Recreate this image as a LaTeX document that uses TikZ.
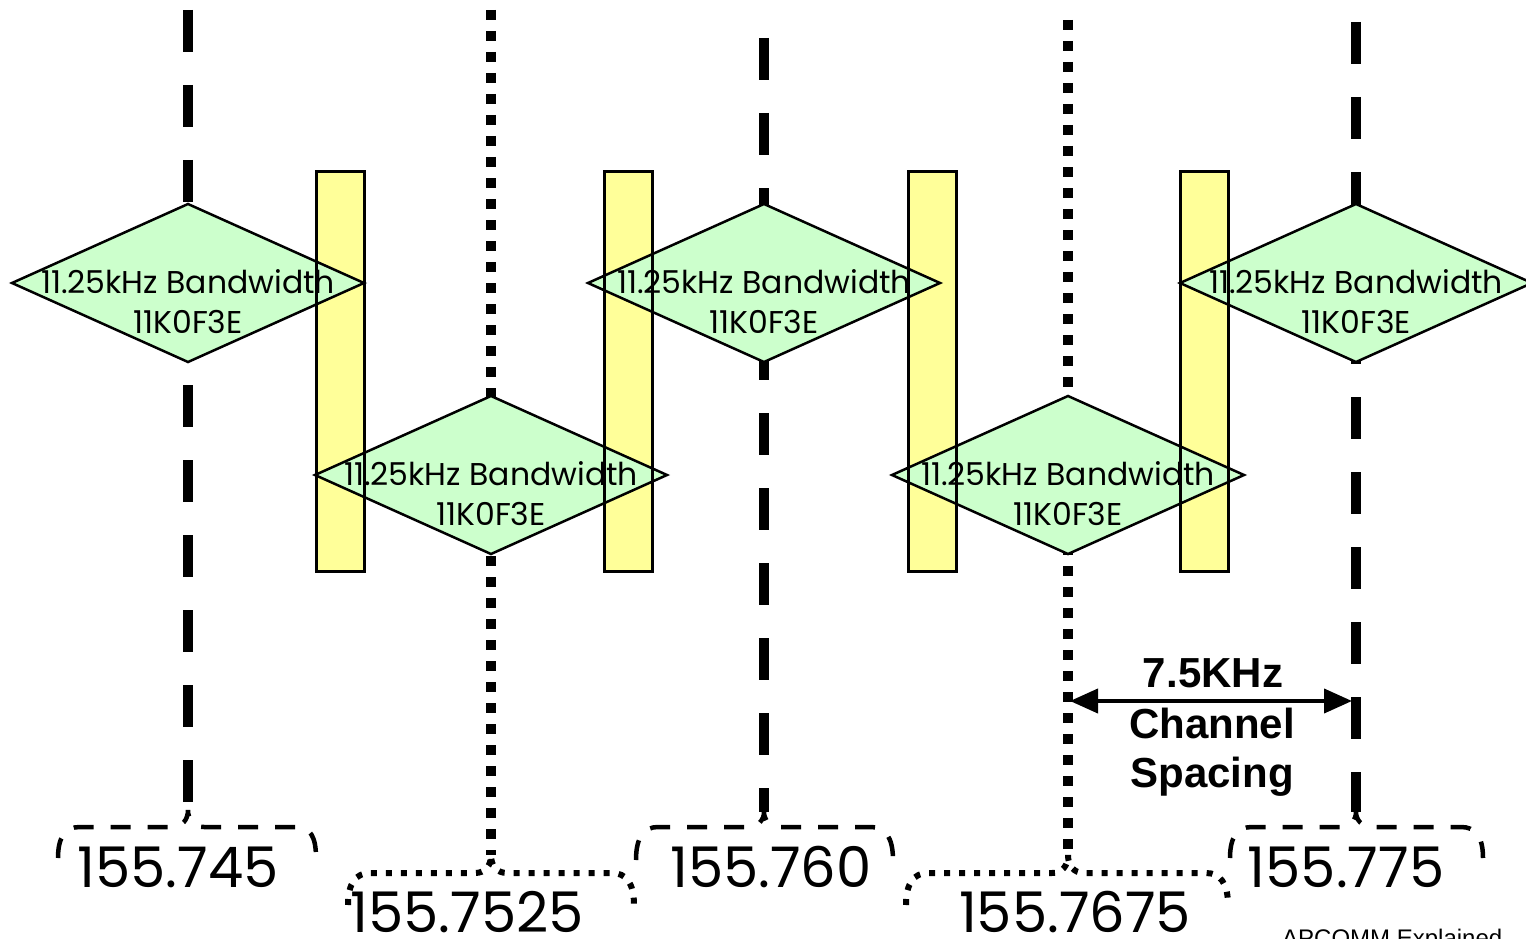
\documentclass[tikz,border=0pt]{standalone}
\usepackage{fontspec}
\setmainfont{Poppins}
\newfontfamily\arialfont{Liberation Sans}
\usetikzlibrary{shapes.geometric,arrows.meta}
\definecolor{barfill}{HTML}{FFFF99}
\definecolor{diafill}{HTML}{CCFFCC}
\begin{document}
\begin{tikzpicture}[x=1pt,y=-1pt,
  dashline/.style={line width=10pt, dash pattern=on 42pt off 33pt},
  dotline/.style={line width=10pt, dash pattern=on 10pt off 11pt},
  dashbrace/.style={line width=4.5pt, dash pattern=on 20pt off 17pt},
  dotbrace/.style={line width=6pt, dash pattern=on 6pt off 9pt},
  barbox/.style={rectangle, fill=barfill, minimum width=48pt, minimum height=400pt, inner sep=0pt, outer sep=0pt},
  barline/.style={draw=black, line width=3pt},
  diabox/.style={diamond, fill=diafill, draw=black, line width=2.5pt, minimum width=352pt, minimum height=158pt, inner sep=0pt, outer sep=0pt},
  diatext/.style={font=\fontsize{31.5}{40}\selectfont, align=center, inner sep=0pt},
  freqtext/.style={font=\fontsize{56}{64}\selectfont, anchor=base, inner sep=0pt},
  spacetext/.style={font=\arialfont\bfseries\fontsize{42}{50}\selectfont, anchor=base, inner sep=0pt},
  spacearrow/.style={line width=4pt, {Triangle[length=28pt,width=24pt]}-{Triangle[length=28pt,width=24pt]}}
]
\useasboundingbox (0,0) rectangle (1526,939);
\begin{scope}
\clip (0,0) rectangle (1526,939);
% frequency lines
\coordinate (t1) at (188,10);   \coordinate (b1) at (188,810);
\coordinate (t2) at (491,10);   \coordinate (b2) at (491,855);
\coordinate (t3) at (764,38);   \coordinate (b3) at (764,812);
\coordinate (t4) at (1068,20);  \coordinate (b4) at (1068,855);
\coordinate (t5) at (1356,22);  \coordinate (b5) at (1356,812);
\draw[dashline] (t1) -- (b1);
\draw[dotline]  (t2) -- (b2);
\draw[dashline] (t3) -- (b3);
\draw[dotline]  (t4) -- (b4);
\draw[dashline] (t5) -- (b5);
% braces
\draw[dashbrace] (58,858) .. controls (58,836) and (66,827) .. (80,827) -- (172,827)
  .. controls (182,827) and (188,820) .. (b1) .. controls (188,820) and (194,827) .. (204,827)
  -- (296,827) .. controls (310,827) and (316,836) .. (316,858);
\draw[dotbrace] (348,905) .. controls (348,883) and (356,873) .. (370,873) -- (475,873)
  .. controls (485,873) and (491,866) .. (b2) .. controls (491,866) and (497,873) .. (507,873)
  -- (612,873) .. controls (626,873) and (634,883) .. (634,905);
\draw[dashbrace] (636,860) .. controls (636,837) and (644,827) .. (658,827) -- (748,827)
  .. controls (758,827) and (764,820) .. (b3) .. controls (764,820) and (770,827) .. (780,827)
  -- (871,827) .. controls (885,827) and (893,837) .. (893,860);
\draw[dotbrace] (906,905) .. controls (906,883) and (914,873) .. (928,873) -- (1052,873)
  .. controls (1062,873) and (1068,866) .. (b4) .. controls (1068,866) and (1074,873) .. (1084,873)
  -- (1206,873) .. controls (1220,873) and (1228,883) .. (1228,905);
\draw[dashbrace] (1230,858) .. controls (1230,836) and (1238,827) .. (1252,827) -- (1340,827)
  .. controls (1350,827) and (1356,820) .. (b5) .. controls (1356,820) and (1362,827) .. (1372,827)
  -- (1461,827) .. controls (1475,827) and (1483,836) .. (1483,858);
% guard bars (fill)
\node[barbox] (r1) at (340,371) {};
\node[barbox] (r2) at (628,371) {};
\node[barbox] (r3) at (932,371) {};
\node[barbox] (r4) at (1204,371) {};
% channel diamonds
\node[diabox] (d1) at (188,283) {};
\node[diabox] (d2) at (491,475) {};
\node[diabox] (d3) at (764,283) {};
\node[diabox] (d4) at (1068,475) {};
\node[diabox] (d5) at (1356,283) {};
% guard bar outlines
\foreach \r in {r1,r2,r3,r4} \draw[barline] (\r.south west) rectangle (\r.north east);
% diamond texts
\node[diatext] (x1) at (188,302) {11.25kHz Bandwidth\\11K0F3E};
\node[diatext] (x2) at (491,494) {11.25kHz Bandwidth\\11K0F3E};
\node[diatext] (x3) at (764,302) {11.25kHz Bandwidth\\11K0F3E};
\node[diatext] (x4) at (1068,494) {11.25kHz Bandwidth\\11K0F3E};
\node[diatext] (x5) at (1356,302) {11.25kHz Bandwidth\\11K0F3E};
% frequency labels
\node[freqtext] (f1) at (178,887) {155.745};
\node[freqtext] (f2) at (467,932) {155.7525};
\node[freqtext] (f3) at (771,887) {155.760};
\node[freqtext] (f4) at (1075,932) {155.7675};
\node[freqtext] (f5) at (1346,887) {155.775};
% channel spacing
\coordinate (a1) at (1070,701);
\coordinate (a2) at (1352,701);
\draw[spacearrow] (a1) -- (a2);
\node[spacetext] (s1) at (1213,687) {7.5KHz};
\node[spacetext] (s2) at (1212,738) {Channel};
\node[spacetext] (s3) at (1212,787) {Spacing};
\node[anchor=north west, inner sep=0pt, font=\arialfont\fontsize{24}{28}\selectfont] (src) at (1282,929) {APCOMM Explained};
\end{scope}
\end{tikzpicture}
\end{document}
